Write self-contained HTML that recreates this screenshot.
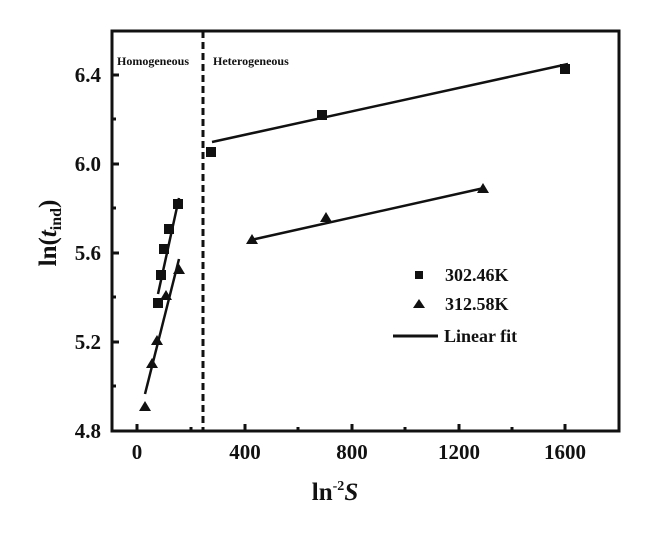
<!DOCTYPE html>
<html><head><style>body{margin:0;background:#fff}svg{display:block}</style></head><body>
<svg width="671" height="534" xmlns="http://www.w3.org/2000/svg" font-family="Liberation Serif, serif" font-weight="bold" fill="#111">
<rect width="671" height="534" fill="#fff"/>
<rect x="112" y="31" width="507" height="400" fill="none" stroke="#111" stroke-width="3"/>
<g stroke="#111" stroke-width="3">
<line x1="137" y1="431" x2="137" y2="424"/><line x1="191" y1="431" x2="191" y2="427"/>
<line x1="245" y1="431" x2="245" y2="424"/><line x1="298" y1="431" x2="298" y2="427"/>
<line x1="352" y1="431" x2="352" y2="424"/><line x1="405" y1="431" x2="405" y2="427"/>
<line x1="459" y1="431" x2="459" y2="424"/><line x1="512" y1="431" x2="512" y2="427"/>
<line x1="565" y1="431" x2="565" y2="424"/>
<line x1="112" y1="75" x2="119" y2="75"/><line x1="112" y1="119" x2="116" y2="119"/>
<line x1="112" y1="164" x2="119" y2="164"/><line x1="112" y1="208" x2="116" y2="208"/>
<line x1="112" y1="253" x2="119" y2="253"/><line x1="112" y1="297" x2="116" y2="297"/>
<line x1="112" y1="342" x2="119" y2="342"/><line x1="112" y1="386" x2="116" y2="386"/>
</g>
<line x1="203" y1="31" x2="203" y2="431" stroke="#111" stroke-width="3" stroke-dasharray="7,4"/>
<g font-size="21" text-anchor="end">
<text x="101" y="82">6.4</text><text x="101" y="171">6.0</text><text x="101" y="260">5.6</text><text x="101" y="349">5.2</text><text x="101" y="438">4.8</text>
</g>
<g font-size="21" text-anchor="middle">
<text x="137" y="459">0</text><text x="245" y="459">400</text><text x="352" y="459">800</text><text x="459" y="459">1200</text><text x="565" y="459">1600</text>
</g>
<text x="335" y="500" font-size="25" text-anchor="middle">ln<tspan font-size="14" dy="-10">-2</tspan><tspan dy="10" font-style="italic">S</tspan></text>
<text transform="translate(56,233) rotate(-90)" font-size="25" text-anchor="middle">ln(<tspan font-style="italic">t</tspan><tspan font-size="16" dy="5">ind</tspan><tspan dy="-5">)</tspan></text>
<text x="117" y="65" font-size="12">Homogeneous</text>
<text x="213" y="65" font-size="12">Heterogeneous</text>
<g stroke="#111" stroke-width="2.5">
<line x1="212" y1="142" x2="568" y2="64"/><line x1="251" y1="240" x2="484" y2="188"/>
<line x1="158" y1="294" x2="179" y2="198"/><line x1="145" y1="394" x2="179" y2="259"/>
<line x1="393" y1="336" x2="438" y2="336" stroke-width="3"/>
</g>
<g>
<rect x="206" y="147" width="10" height="10"/><rect x="317" y="110" width="10" height="10"/><rect x="560" y="64" width="10" height="10"/>
<rect x="153" y="298" width="10" height="10"/><rect x="156" y="270" width="10" height="10"/><rect x="159" y="244" width="10" height="10"/><rect x="164" y="224" width="10" height="10"/><rect x="173" y="199" width="10" height="10"/>
<rect x="415" y="271" width="8" height="8"/>
</g>
<g>
<path d="M252 234 l6 10 h-12z"/><path d="M326 212 l6 10 h-12z"/><path d="M483 183 l6 10 h-12z"/>
<path d="M145 401 l6 10 h-12z"/><path d="M152 358 l6 10 h-12z"/><path d="M157 335 l6 10 h-12z"/><path d="M166 290 l6 10 h-12z"/><path d="M179 264 l6 10 h-12z"/>
<path d="M419 299 l6 9 h-12z"/>
</g>
<g font-size="18">
<text x="445" y="281">302.46K</text><text x="445" y="310">312.58K</text><text x="444" y="342">Linear fit</text>
</g>
</svg>
</body></html>
